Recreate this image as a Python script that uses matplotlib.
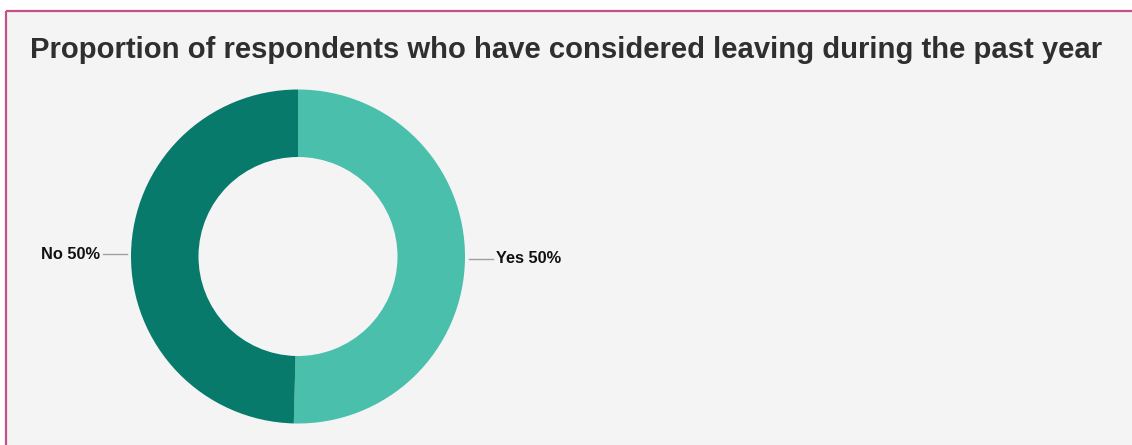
import numpy as np
import matplotlib
matplotlib.use("Agg")
import matplotlib.pyplot as plt
from matplotlib.patches import Rectangle

# Survey answers
categories = ["Yes", "No"]
shares = [50.4, 49.6]
colors = ["#4abfac", "#087a6c"]
title = "Proportion of respondents who have considered leaving during the past year"

W, H = 1132, 445
fig = plt.figure(figsize=(W / 100, H / 100), dpi=100)
fig.patch.set_facecolor("white")

ax = fig.add_axes([0, 0, 1, 1])
ax.set_xlim(0, W)
ax.set_ylim(0, H)
ax.set_aspect("equal")
ax.axis("off")

# Panel background with top and left accent border
panel = Rectangle((5.5, -5), W + 10, H - 10.5 + 5, facecolor="#f4f4f4",
                  edgecolor="none", zorder=0)
ax.add_patch(panel)
ax.plot([5.5, 5.5], [0, H - 10.5], color="#c4508a", lw=1.6, zorder=1,
        solid_capstyle="butt")
ax.plot([5.5, W], [H - 10.5, H - 10.5], color="#c4508a", lw=1.6, zorder=1,
        solid_capstyle="butt")

ax.text(30, H - 58, title, fontsize=21.1, fontweight="bold", color="#2f2f2f",
        family="Liberation Sans", ha="left", va="baseline")

cx, cy, r = 298, H - 256.5, 167
inner = 99.5
wedges, _ = ax.pie(shares, colors=colors, startangle=90, counterclock=False,
                   radius=r, center=(cx, cy), frame=True,
                   wedgeprops=dict(width=r - inner, linewidth=0))
ax.set_xlim(0, W)
ax.set_ylim(0, H)
ax.axis("off")

for w, cat, val in zip(wedges, categories, shares):
    ang = np.deg2rad((w.theta1 + w.theta2) / 2)
    ux, uy = np.cos(ang), np.sin(ang)
    y = cy + r * uy
    side = 1 if ux > 0 else -1
    x0 = cx + side * (r + 4)
    x1 = cx + side * (r + 28)
    ax.plot([x0, x1], [y, y], color="#a0a0a0", lw=1, zorder=3)
    ax.text(x1 + side * 3, y, f"{cat} {val:.0f}%", fontsize=11.8,
            fontweight="bold", family="Liberation Sans", color="#111111",
            ha="left" if side > 0 else "right", va="center")

fig.savefig("out.png", dpi=100, facecolor=fig.get_facecolor())
